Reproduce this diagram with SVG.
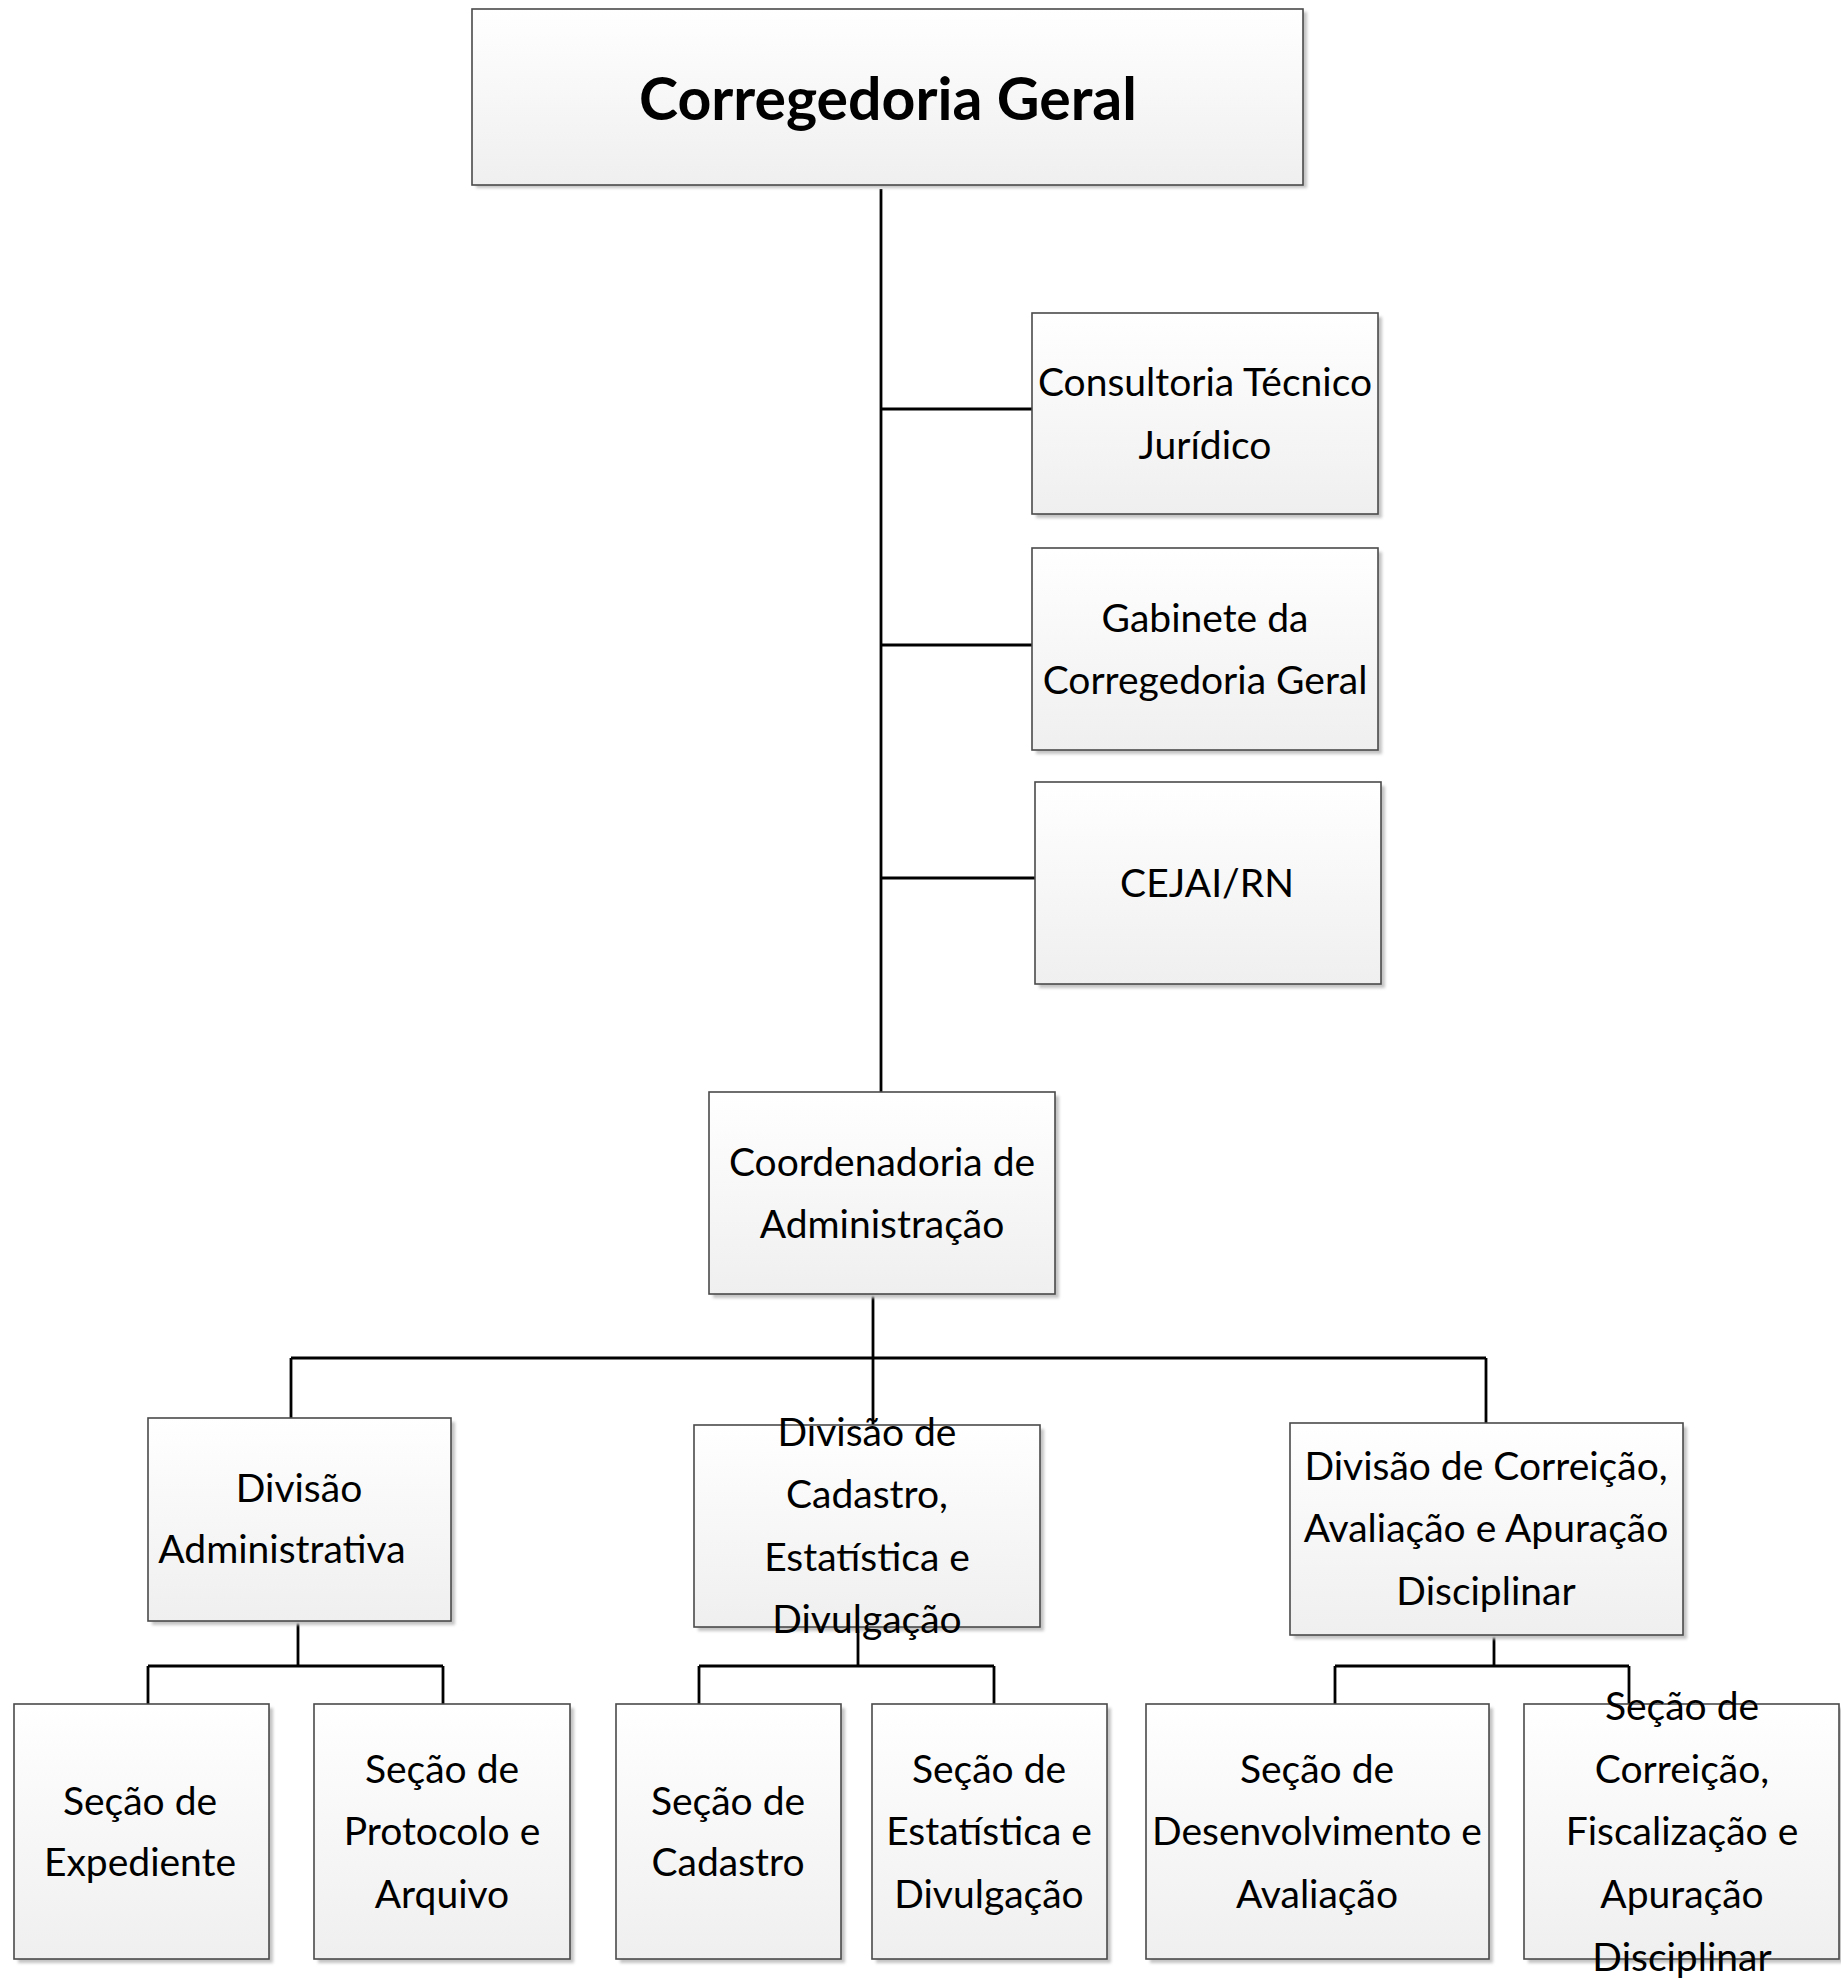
<svg xmlns="http://www.w3.org/2000/svg" width="1841" height="1979" viewBox="0 0 1841 1979">
<defs>
<linearGradient id="g" x1="0" y1="0" x2="0" y2="1">
<stop offset="0" stop-color="#ffffff"/>
<stop offset="1" stop-color="#efefef"/>
</linearGradient>
<filter id="sh" x="-5%" y="-5%" width="115%" height="115%">
<feGaussianBlur stdDeviation="1.5"/>
</filter>
</defs>
<style>
.box{fill:url(#g);stroke:#4a4a4a;stroke-width:1.6}
.shd{fill:#c4c4c4;filter:url(#sh)}
.t{font-family:Lato,"Liberation Sans",sans-serif;font-size:39px;fill:#000;text-anchor:middle}
.title{font-family:Lato,"Liberation Sans",sans-serif;font-size:59px;font-weight:bold;fill:#000;text-anchor:middle}
.ln{stroke:#000;stroke-width:2.8;fill:none}
</style>
<rect width="1841" height="1979" fill="#fff"/>
<g id="connectors">
<path class="ln" d="M881 189 V1092"/>
<path class="ln" d="M881 409 H1032 M881 645 H1032 M881 878 H1035"/>
<path class="ln" d="M873 1295 V1425"/>
<path class="ln" d="M291 1358 H1486 M291 1358 V1418 M1486 1358 V1423"/>
<path class="ln" d="M298 1621 V1666 M148 1666 H443 M148 1666 V1704 M443 1666 V1704"/>
<path class="ln" d="M858 1627 V1666 M699 1666 H994 M699 1666 V1704 M994 1666 V1704"/>
<path class="ln" d="M1494 1635 V1666 M1335 1666 H1629 M1335 1666 V1704 M1629 1666 V1704"/>
</g>
<g id="n-corregedoria">
<rect class="shd" x="476" y="12" width="831" height="176"/>
<rect class="box" x="472" y="9" width="831" height="176"/>
<text class="title" x="888" y="120">Corregedoria Geral</text>
</g>
<g id="n-consultoria">
<rect class="shd" x="1036" y="317" width="346" height="201"/>
<rect class="box" x="1032" y="313" width="346" height="201"/>
<text class="t" x="1205" y="396">Consultoria Técnico</text>
<text class="t" x="1205" y="459">Jurídico</text>
</g>
<g id="n-gabinete">
<rect class="shd" x="1036" y="552" width="346" height="202"/>
<rect class="box" x="1032" y="548" width="346" height="202"/>
<text class="t" x="1205" y="632">Gabinete da</text>
<text class="t" x="1205" y="694">Corregedoria Geral</text>
</g>
<g id="n-cejai">
<rect class="shd" x="1039" y="786" width="346" height="202"/>
<rect class="box" x="1035" y="782" width="346" height="202"/>
<text class="t" x="1207" y="897">CEJAI/RN</text>
</g>
<g id="n-coordenadoria">
<rect class="shd" x="713" y="1096" width="346" height="202"/>
<rect class="box" x="709" y="1092" width="346" height="202"/>
<text class="t" x="882" y="1176">Coordenadoria de</text>
<text class="t" x="882" y="1238">Administração</text>
</g>
<g id="n-div-admin">
<rect class="shd" x="152" y="1422" width="303" height="203"/>
<rect class="box" x="148" y="1418" width="303" height="203"/>
<text class="t" x="299" y="1502">Divisão</text>
<text class="t" x="282" y="1563">Administrativa</text>
</g>
<g id="n-div-cadastro">
<rect class="shd" x="698" y="1429" width="346" height="202"/>
<rect class="box" x="694" y="1425" width="346" height="202"/>
<text class="t" x="867" y="1446">Divisão de</text>
<text class="t" x="867" y="1508">Cadastro,</text>
<text class="t" x="867" y="1571">Estatística e</text>
<text class="t" x="867" y="1633">Divulgação</text>
</g>
<g id="n-div-correicao">
<rect class="shd" x="1294" y="1427" width="393" height="212"/>
<rect class="box" x="1290" y="1423" width="393" height="212"/>
<text class="t" x="1486" y="1480">Divisão de Correição,</text>
<text class="t" x="1486" y="1542">Avaliação e Apuração</text>
<text class="t" x="1486" y="1605">Disciplinar</text>
</g>
<g id="n-expediente">
<rect class="shd" x="18" y="1708" width="255" height="255"/>
<rect class="box" x="14" y="1704" width="255" height="255"/>
<text class="t" x="140" y="1815">Seção de</text>
<text class="t" x="140" y="1876">Expediente</text>
</g>
<g id="n-protocolo">
<rect class="shd" x="318" y="1708" width="256" height="255"/>
<rect class="box" x="314" y="1704" width="256" height="255"/>
<text class="t" x="442" y="1783">Seção de</text>
<text class="t" x="442" y="1845">Protocolo e</text>
<text class="t" x="442" y="1908">Arquivo</text>
</g>
<g id="n-cadastro">
<rect class="shd" x="620" y="1708" width="225" height="255"/>
<rect class="box" x="616" y="1704" width="225" height="255"/>
<text class="t" x="728" y="1815">Seção de</text>
<text class="t" x="728" y="1876">Cadastro</text>
</g>
<g id="n-estatistica">
<rect class="shd" x="876" y="1708" width="235" height="255"/>
<rect class="box" x="872" y="1704" width="235" height="255"/>
<text class="t" x="989" y="1783">Seção de</text>
<text class="t" x="989" y="1845">Estatística e</text>
<text class="t" x="989" y="1908">Divulgação</text>
</g>
<g id="n-desenvolvimento">
<rect class="shd" x="1150" y="1708" width="343" height="255"/>
<rect class="box" x="1146" y="1704" width="343" height="255"/>
<text class="t" x="1317" y="1783">Seção de</text>
<text class="t" x="1317" y="1845">Desenvolvimento e</text>
<text class="t" x="1317" y="1908">Avaliação</text>
</g>
<g id="n-correicao">
<rect class="shd" x="1528" y="1708" width="315" height="255"/>
<rect class="box" x="1524" y="1704" width="315" height="255"/>
<text class="t" x="1682" y="1720">Seção de</text>
<text class="t" x="1682" y="1783">Correição,</text>
<text class="t" x="1682" y="1845">Fiscalização e</text>
<text class="t" x="1682" y="1908">Apuração</text>
<text class="t" x="1682" y="1971">Disciplinar</text>
</g>
</svg>
